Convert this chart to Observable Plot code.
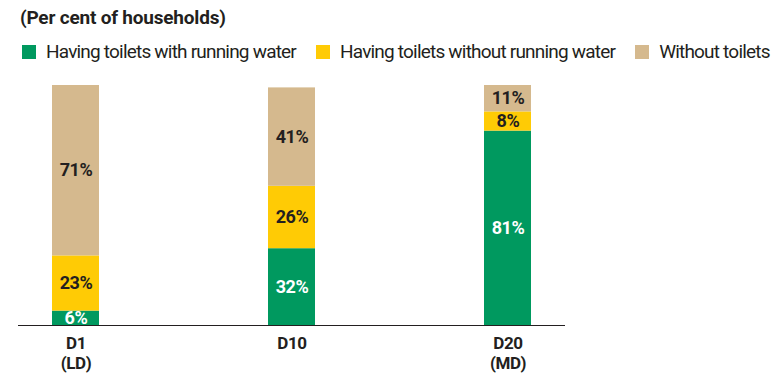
<!DOCTYPE html>
<html><head><meta charset="utf-8">
<script src="https://cdn.jsdelivr.net/npm/d3@7"></script>
<script src="https://cdn.jsdelivr.net/npm/@observablehq/plot@0.6"></script>
<style>
body{margin:0;background:#fff;}
#wrap{position:relative;width:780px;height:378px;font-family:"Roboto",sans-serif;color:#231f20;}
#title{position:absolute;left:20px;top:6px;font-weight:bold;font-size:19px;letter-spacing:-0.2px;}
#legend{position:absolute;left:22px;top:40px;display:flex;align-items:center;font-size:19px;letter-spacing:-0.8px;white-space:nowrap;}
.item{display:flex;align-items:center;margin-right:20px;}
.sw{width:14px;height:14px;margin-right:10px;}
#chart{position:absolute;left:0;top:64px;}
#chart svg text{font-family:"Roboto",sans-serif;letter-spacing:-0.4px;}
</style></head>
<body><div id="wrap"><div id="title">(Per cent of households)</div><div id="legend"></div><div id="chart"></div></div>
<script>
const deciles = ["D1", "D10", "D20"];
const tickLabels = ["D1\n(LD)", "D10", "D20\n(MD)"];
const categories = ["Having toilets with running water", "Having toilets without running water", "Without toilets"];
const colors = ["#00995F", "#FFCB05", "#D5B98E"];
const withWater = [6, 32, 81];
const withoutWater = [23, 26, 8];
const noToilet = [71, 41, 11];

const series = [withWater, withoutWater, noToilet];
const data = [];
categories.forEach((c, ci) => deciles.forEach((d, di) => data.push({decile: d, category: c, value: series[ci][di]})));

const legend = document.getElementById("legend");
categories.forEach((c, i) => {
  const it = document.createElement("div"); it.className = "item";
  const sw = document.createElement("div"); sw.className = "sw"; sw.style.background = colors[i];
  const tx = document.createElement("span"); tx.textContent = c;
  it.appendChild(sw); it.appendChild(tx); legend.appendChild(it);
});

const plot = Plot.plot({
  width: 780, height: 314,
  marginLeft: 18, marginRight: 215, marginTop: 21, marginBottom: 53,
  x: {domain: deciles, paddingInner: 0.782, paddingOuter: 0.155, label: null},
  y: {domain: [0, 100], axis: null},
  color: {domain: categories, range: colors},
  marks: [
    Plot.barY(data, {x: "decile", y: "value", fill: "category", z: "category", order: categories}),
    Plot.text(data, Plot.stackY({x: "decile", y: "value", z: "category", order: categories,
      text: d => d.value + "%", fill: d => d.category === categories[0] ? "white" : "#231f20",
      fontSize: 18, fontWeight: "bold"})),
    Plot.ruleY([0], {stroke: "#231f20", strokeWidth: 1.2}),
    Plot.axisX({tickSize: 0, tickPadding: 10, fontSize: 17, fontWeight: "bold", fill: "#231f20",
      tickFormat: d => tickLabels[deciles.indexOf(d)], lineHeight: 1.15})
  ]
});
document.getElementById("chart").appendChild(plot);
</script></body></html>
